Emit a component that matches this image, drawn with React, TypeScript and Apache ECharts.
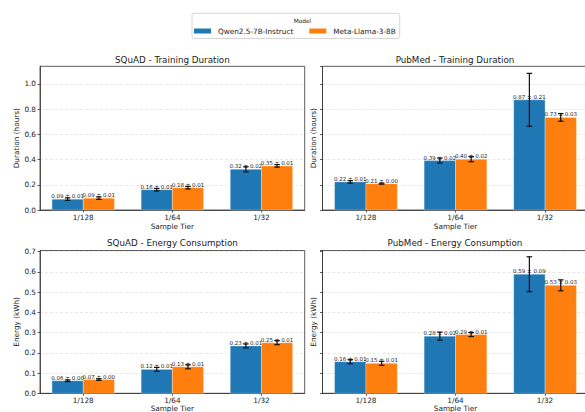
import React, { useEffect, useRef } from "react";
import * as echarts from "echarts";

const tiers = ["1/128", "1/64", "1/32"];
const models = ["Qwen2.5-7B-Instruct", "Meta-Llama-3-8B"];
const colors = ["#1f77b4", "#ff7f0e"];

const squadDurQwen = [0.086, 0.161, 0.323];
const squadDurQwenErr = [0.01, 0.01, 0.02];
const squadDurLlama = [0.094, 0.177, 0.35];
const squadDurLlamaErr = [0.01, 0.01, 0.01];

const pubmedDurQwen = [0.223, 0.392, 0.874];
const pubmedDurQwenErr = [0.01, 0.02, 0.21];
const pubmedDurLlama = [0.209, 0.403, 0.734];
const pubmedDurLlamaErr = [0.004, 0.02, 0.03];

const squadEnQwen = [0.062, 0.118, 0.234];
const squadEnQwenErr = [0.004, 0.01, 0.01];
const squadEnLlama = [0.068, 0.131, 0.25];
const squadEnLlamaErr = [0.004, 0.01, 0.01];

const pubmedEnQwen = [0.156, 0.282, 0.588];
const pubmedEnQwenErr = [0.01, 0.02, 0.086];
const pubmedEnLlama = [0.148, 0.29, 0.533];
const pubmedEnLlamaErr = [0.01, 0.01, 0.027];

const titles = [
  "SQuAD - Training Duration",
  "PubMed - Training Duration",
  "SQuAD - Energy Consumption",
  "PubMed - Energy Consumption",
];

const FONT = "DejaVu Sans";
const BAR_W = 0.35;

export default function App() {
  const ref = useRef<HTMLDivElement>(null);
  useEffect(() => {
    if (!ref.current) return;
    const chart = echarts.init(ref.current, null, { renderer: "svg" });

    const grids = [
      { left: 40, top: 66.3, width: 264.7, height: 143.7 },
      { left: 322.5, top: 66.3, width: 266, height: 143.7 },
      { left: 40, top: 250.5, width: 264.7, height: 142.8 },
      { left: 322.5, top: 250.5, width: 266, height: 142.8 },
    ].map((g) => ({
      ...g,
      show: true,
      containLabel: false,
      outerBoundsMode: "none",
      borderColor: "#333",
      borderWidth: 0.8,
      backgroundColor: "transparent",
    }));

    const panels = [
      [squadDurQwen, squadDurQwenErr, squadDurLlama, squadDurLlamaErr],
      [pubmedDurQwen, pubmedDurQwenErr, pubmedDurLlama, pubmedDurLlamaErr],
      [squadEnQwen, squadEnQwenErr, squadEnLlama, squadEnLlamaErr],
      [pubmedEnQwen, pubmedEnQwenErr, pubmedEnLlama, pubmedEnLlamaErr],
    ];

    const xAxes = [0, 1, 2, 3].map((i) => ({
      type: "value",
      gridIndex: i,
      min: -0.485,
      max: 2.485,
      name: "Sample Tier",
      nameLocation: "middle",
      nameGap: i < 2 ? 13 : 10,
      nameTextStyle: { fontFamily: FONT, fontSize: 7.3, color: "#222" },
      axisLine: { onZero: false, lineStyle: { color: "#333", width: 0.8 } },
      axisTick: {
        show: true,
        customValues: [0, 1, 2],
        length: 2.5,
        lineStyle: { color: "#333", width: 0.8 },
      },
      axisLabel: {
        customValues: [0, 1, 2],
        formatter: (v: number) => tiers[Math.round(v)],
        fontFamily: FONT,
        fontSize: 7.3,
        color: "#222",
        margin: 4,
      },
      splitLine: { show: false },
    }));

    const yAxes = [0, 1, 2, 3].map((i) => {
      const top = i < 2;
      return {
        type: "value",
        gridIndex: i,
        min: 0,
        max: top ? 1.14 : 0.705,
        interval: top ? 0.2 : 0.1,
        name: top ? "Duration (hours)" : "Energy (kWh)",
        nameLocation: "middle",
        nameGap: i % 2 === 0 ? 18 : 6,
        nameTextStyle: { fontFamily: FONT, fontSize: 7.3, color: "#222" },
        axisLine: { show: true, onZero: false, lineStyle: { color: "#333", width: 0.8 } },
        axisTick: { show: true, length: 2.5, lineStyle: { color: "#333", width: 0.8 } },
        axisLabel: {
          show: i % 2 === 0,
          showMaxLabel: false,
          formatter: (v: number) => v.toFixed(1),
          fontFamily: FONT,
          fontSize: 7.3,
          color: "#222",
          margin: 4,
        },
        splitLine: {
          show: true,
          showMinLine: false,
          showMaxLine: false,
          lineStyle: { color: "#d8d8d8", width: 0.6, type: [3, 2] },
        },
      };
    });

    const makeRender = (offset: number, color: string) => (params: any, api: any) => {
      const x = api.value(0) as number;
      const v = api.value(1) as number;
      const e = api.value(2) as number;
      const cx = x + offset;
      const pL = api.coord([cx - BAR_W / 2, 0]);
      const pR = api.coord([cx + BAR_W / 2, v]);
      const c = api.coord([cx, v]);
      const et = api.coord([cx, v + e]);
      const eb = api.coord([cx, v - e]);
      const cap = 2.8;
      const ls = { stroke: "#111", lineWidth: 1.2 };
      return {
        type: "group",
        children: [
          {
            type: "rect",
            shape: { x: pL[0], y: pR[1], width: pR[0] - pL[0], height: pL[1] - pR[1] },
            style: { fill: color, stroke: "rgba(255,255,255,0.6)", lineWidth: 0.5 },
          },
          {
            type: "text",
            x: c[0],
            y: c[1],
            style: {
              text: `${v.toFixed(2)} ± ${e.toFixed(2)}`,
              align: "center",
              verticalAlign: "bottom",
              fontFamily: FONT,
              fontSize: 5.5,
              fill: "#222",
            },
          },
          { type: "line", shape: { x1: c[0], y1: et[1], x2: c[0], y2: eb[1] }, style: ls },
          { type: "line", shape: { x1: c[0] - cap, y1: et[1], x2: c[0] + cap, y2: et[1] }, style: ls },
          { type: "line", shape: { x1: c[0] - cap, y1: eb[1], x2: c[0] + cap, y2: eb[1] }, style: ls },
        ],
      };
    };

    const series: any[] = [];
    panels.forEach((p, gi) => {
      [0, 1].forEach((m) => {
        const vals = p[m * 2];
        const errs = p[m * 2 + 1];
        series.push({
          type: "custom",
          name: models[m],
          xAxisIndex: gi,
          yAxisIndex: gi,
          itemStyle: { color: colors[m] },
          encode: { x: 0, y: 1 },
          data: tiers.map((_, i) => [i, vals[i], errs[i]]),
          renderItem: makeRender(m === 0 ? -BAR_W / 2 : BAR_W / 2, colors[m]),
        });
      });
    });

    const titleCenters = [
      [172.4, 60],
      [455, 60],
      [172.4, 243.3],
      [455, 243.3],
    ];

    chart.setOption({
      animation: false,
      grid: grids,
      xAxis: xAxes,
      yAxis: yAxes,
      series,
      legend: {
        data: models,
        left: 192,
        top: 13.3,
        icon: "rect",
        itemWidth: 17,
        itemHeight: 5,
        itemGap: 16,
        padding: [14.2, 4, 4, 2],
        borderColor: "#cccccc",
        borderWidth: 0.8,
        borderRadius: 2,
        textStyle: { fontFamily: FONT, fontSize: 7.3, color: "#222", padding: [0, 0, 0, 2] },
      },
      graphic: [
        {
          type: "text",
          x: 302.5,
          y: 20.5,
          style: {
            text: "Model",
            align: "center",
            verticalAlign: "middle",
            fontFamily: FONT,
            fontSize: 5.8,
            fill: "#222",
          },
        },
        ...titles.map((t, i) => ({
          type: "text",
          x: titleCenters[i][0],
          y: titleCenters[i][1],
          style: {
            text: t,
            align: "center",
            verticalAlign: "middle",
            fontFamily: FONT,
            fontSize: 8.75,
            fill: "#222",
          },
        })),
      ],
    });

    return () => chart.dispose();
  }, []);

  return <div ref={ref} style={{ width: 585, height: 412, position: "absolute", left: 0, top: 0 }} />;
}
